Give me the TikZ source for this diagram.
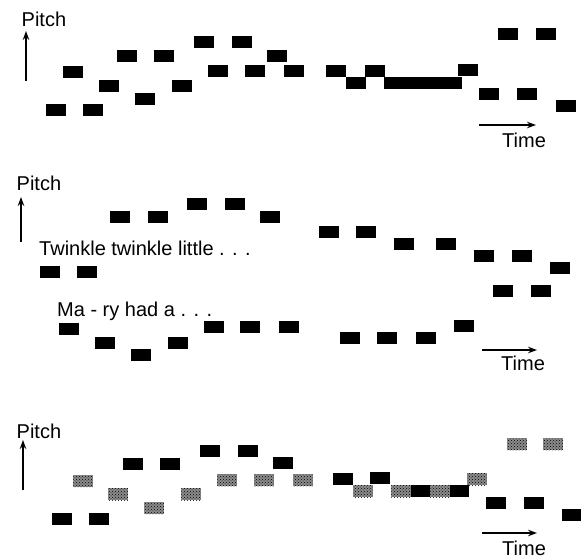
\documentclass[tikz,border=0pt]{standalone}
\usepackage{fontspec}
\setmainfont{Liberation Sans}
\usetikzlibrary{patterns,arrows.meta}
\begin{document}
\begin{tikzpicture}[x=1pt,y=-1pt]
    % Define note styles
    \tikzstyle{note} = [rectangle, fill=black, inner sep=0pt,
        minimum width=19.5pt, minimum height=12pt]
    \tikzstyle{hatch} = [note, fill=none, preaction={fill=black!45},
        pattern=crosshatch dots, pattern color=black]
    \tikzstyle{txt} = [font=\fontsize{20}{24}\selectfont, inner sep=0pt, anchor=base west]
    \tikzstyle{axis} = [draw, line width=1.6pt, -{Stealth[length=9pt,width=6.5pt]}] % Arrow with direction

    \useasboundingbox (0,0) rectangle (581,559);

    % Top panel: both tunes, all black
    \foreach \x/\y [count=\i] in {56/110,73/72,93/110,109/86,127/56,145/99,164/56,
        182/86,204/42,218/71,242/42,255/71,277/56,294/71,336/71,356/83,375/71,
        394/83,413/83,433/83,452/83,468/70,489/94,508/34,527/94,546/34,566/106}
        \node [note] (a\i) at (\x,\y) {};
    \node [txt] (pitchA) at (21.5,26.5) {Pitch};
    \node [txt] (timeA) at (502,147) {Time};
    \coordinate (pA0) at (26,81);
    \coordinate (pA1) at (26,31);
    \coordinate (tA0) at (479,125);
    \coordinate (tA1) at (536,125);

    % Middle panel: the two tunes apart
    \foreach \x/\y [count=\i] in {120/217,158/217,197/204,235/204,270/217,329/232,
        366/232,404/244,446/244,484/256,522/256,560/268,503/291,541/291,50/272,87/272}
        \node [note] (b\i) at (\x,\y) {};
    \foreach \x/\y [count=\i] in {69/329,105/343,141/355,178/343,214/327,250/327,
        289/327,350/338,387/338,426/338,464/326}
        \node [note] (c\i) at (\x,\y) {};
    \node [txt] (twinkle) at (39,255) {Twinkle twinkle little . . .};
    \node [txt] (mary) at (57,316) {Ma - ry had a . . .};
    \node [txt] (pitchB) at (16.5,190.5) {Pitch};
    \node [txt] (timeB) at (501,370) {Time};
    \coordinate (pB0) at (21,242);
    \coordinate (pB1) at (21,197);
    \coordinate (tB0) at (482,350);
    \coordinate (tB1) at (537,350);

    % Bottom panel: one tune black, the other hatched
    \foreach \x/\y [count=\i] in {62/519,99/519,133/464,170/464,210/451,248/451,
        283/463,343/479,380/478,420.5/491,459.5/491,496/503,534/503,572/515}
        \node [note] (d\i) at (\x,\y) {};
    \foreach \x/\y [count=\i] in {83/481,118/494,154/508,191/494,227/480,264/480,
        303/480,363/491,401/491,440/491,477/479,517/444,553/444}
        \node [hatch] (e\i) at (\x,\y) {};
    \node [txt] (pitchC) at (16.5,438.5) {Pitch};
    \node [txt] (timeC) at (502,555) {Time};
    \coordinate (pC0) at (23,490);
    \coordinate (pC1) at (23,440);
    \coordinate (tC0) at (482,533);
    \coordinate (tC1) at (537,533);

    % Draw arrows
    \path [axis] (pA0) -- (pA1);
    \path [axis] (tA0) -- (tA1);
    \path [axis] (pB0) -- (pB1);
    \path [axis] (tB0) -- (tB1);
    \path [axis] (pC0) -- (pC1);
    \path [axis] (tC0) -- (tC1);
\end{tikzpicture}
\end{document}
